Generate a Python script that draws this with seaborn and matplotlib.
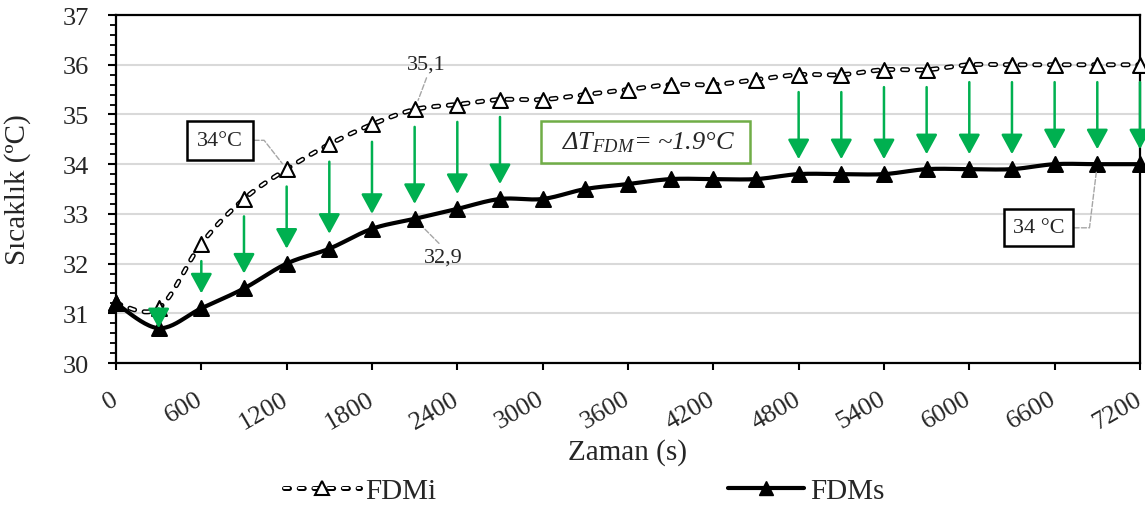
import numpy as np
import pandas as pd
import matplotlib
matplotlib.use('Agg')
import matplotlib.pyplot as plt
import seaborn as sns
from matplotlib.lines import Line2D
from matplotlib.legend_handler import HandlerTuple
from matplotlib.ticker import MultipleLocator

# values
time_s = [0, 300, 600, 900, 1200, 1500, 1800, 2100, 2400, 2700, 3000, 3300, 3600,
          3900, 4200, 4500, 4800, 5100, 5400, 5700, 6000, 6300, 6600, 6900, 7200]
fdmi = [31.2, 31.1, 32.4, 33.3, 33.9, 34.4, 34.8, 35.1, 35.2, 35.3, 35.3, 35.4, 35.5,
        35.6, 35.6, 35.7, 35.8, 35.8, 35.9, 35.9, 36.0, 36.0, 36.0, 36.0, 36.0]
fdms = [31.2, 30.7, 31.1, 31.5, 32.0, 32.3, 32.7, 32.9, 33.1, 33.3, 33.3, 33.5, 33.6,
        33.7, 33.7, 33.7, 33.8, 33.8, 33.8, 33.9, 33.9, 33.9, 34.0, 34.0, 34.0]
arrow_times = [300, 600, 900, 1200, 1500, 1800, 2100, 2400, 2700,
               4800, 5100, 5400, 5700, 6000, 6300, 6600, 6900, 7200]
x_ticks = list(range(0, 7201, 600))
y_ticks = list(range(30, 38))

sns.set_style('white')
plt.rcParams['font.family'] = ['Liberation Serif', 'DejaVu Serif']
plt.rcParams['mathtext.fontset'] = 'custom'
plt.rcParams['mathtext.rm'] = 'Liberation Serif'
plt.rcParams['mathtext.it'] = 'Liberation Serif:italic'
plt.rcParams['lines.scale_dashes'] = False

green = '#00B050'
grey = '#A6A6A6'
dash = (0, (3.6, 7.0))


def smooth(x, y, n=24):
    # excel-like smoothed line (catmull-rom through the points)
    p = np.column_stack([x, y]).astype(float)
    p = np.vstack([p[0], p, p[-1]])
    t = np.linspace(0, 1, n, endpoint=False)[:, None]
    out = []
    for i in range(1, len(p) - 2):
        p0, p1, p2, p3 = p[i - 1], p[i], p[i + 1], p[i + 2]
        out.append(0.5 * (2 * p1 + (-p0 + p2) * t + (2 * p0 - 5 * p1 + 4 * p2 - p3) * t ** 2
                          + (-p0 + 3 * p1 - 3 * p2 + p3) * t ** 3))
    out.append(p[-2][None, :])
    out = np.vstack(out)
    return out[:, 0], out[:, 1]


df = pd.DataFrame({'t': time_s, 'FDMi': fdmi, 'FDMs': fdms})

fig = plt.figure(figsize=(11.45, 5.06), dpi=100)
ax = fig.add_axes([0.1013, 0.2806, 0.8943, 0.6877])

sx, sy = smooth(df['t'], df['FDMi'])
sns.lineplot(x=sx, y=sy, ax=ax, color='black', lw=3.6, linestyle=dash,
             dash_capstyle='round', estimator=None, sort=False, zorder=3)
sns.lineplot(x=sx, y=sy, ax=ax, color='white', lw=1.5, linestyle=dash,
             dash_capstyle='round', estimator=None, sort=False, zorder=3)
sx, sy = smooth(df['t'], df['FDMs'])
sns.lineplot(x=sx, y=sy, ax=ax, color='black', lw=3, estimator=None, sort=False, zorder=3)

sns.scatterplot(data=df, x='t', y='FDMi', ax=ax, marker='^', s=115, color='white',
                edgecolor='black', linewidth=1.5, zorder=4, clip_on=False)
sns.scatterplot(data=df, x='t', y='FDMs', ax=ax, marker='^', s=115, color='black',
                edgecolor='black', linewidth=1.5, zorder=4, clip_on=False)

# green arrows between the two curves
for t in arrow_times:
    i = time_s.index(t)
    hi, lo = fdmi[i], fdms[i]
    if hi - lo > 1:
        hi, lo = hi - 0.35, lo + 0.3
    ax.annotate('', xy=(t, lo), xytext=(t, hi), annotation_clip=False, zorder=5,
                arrowprops=dict(arrowstyle='-|>,head_length=0.55,head_width=0.3',
                                color=green, lw=1.8, shrinkA=0, shrinkB=0,
                                mutation_scale=22))

# callouts
lead = dict(arrowstyle='-', color=grey, ls='--', lw=1)
ax.annotate('35,1', xy=(2100, 35.1), xytext=(2182, 36.02), ha='center', va='center',
            fontsize=16, arrowprops=dict(lead, shrinkA=1, shrinkB=7, relpos=(0.55, 0)))
ax.annotate('32,9', xy=(2100, 32.9), xytext=(2301, 32.13), ha='center', va='center',
            fontsize=16, arrowprops=dict(lead, shrinkA=1, shrinkB=4, relpos=(0.5, 1)))
box = dict(boxstyle='square,pad=0.45', fc='white', ec='black', lw=1.8)
ax.annotate('34°C', xy=(1200, 33.9), xytext=(732, 34.48), ha='center', va='center',
            fontsize=16, bbox=box, zorder=6,
            arrowprops=dict(lead, shrinkA=0, shrinkB=5, relpos=(1, 0.5),
                            connectionstyle='angle,angleA=0,angleB=128,rad=0'))
ax.annotate('34 °C', xy=(6900, 34.0), xytext=(6486, 32.72), ha='center', va='center',
            fontsize=16, bbox=dict(box, boxstyle='square,pad=0.4'), zorder=6,
            arrowprops=dict(lead, shrinkA=0, shrinkB=5, relpos=(1, 0.5),
                            connectionstyle='angle,angleA=0,angleB=-97,rad=0'))
ax.text(3723, 34.45, '  ΔT$_{FDM}$= ~1.9°C  ', ha='center', va='center', fontsize=19,
        style='italic', zorder=6,
        bbox=dict(boxstyle='square,pad=0.33', fc='white', ec='#70AD47', lw=1.8))

# axes
ax.set_xlim(0, 7200)
ax.set_ylim(30, 37)
ax.set_xticks(x_ticks)
ax.set_yticks(y_ticks)
ax.yaxis.set_minor_locator(MultipleLocator(0.2))
ax.yaxis.grid(True, color='#D9D9D9', lw=1.5)
ax.xaxis.grid(False)
ax.set_axisbelow(True)
for s in ax.spines.values():
    s.set_visible(True)
    s.set_color('black')
    s.set_linewidth(1.6)
ax.tick_params(axis='both', which='both', direction='out', color='black', width=1.5)
ax.tick_params(axis='y', which='major', length=6, pad=13.5, labelsize=19, left=True)
ax.tick_params(axis='y', which='minor', length=4, width=1.3, left=True)
ax.tick_params(axis='x', which='major', length=5, pad=19.5, labelsize=19, bottom=True)
for lbl in ax.get_xticklabels():
    lbl.set_rotation(30)
    lbl.set_ha('right')
    lbl.set_va('center')
    lbl.set_rotation_mode('anchor')

ax.set_xlabel('Zaman (s)', fontsize=21)
ax.set_ylabel('Sıcaklık (ºC)', fontsize=21)
ax.xaxis.set_label_coords(0.5, -0.215)
ax.yaxis.set_label_coords(-0.083, 0.5)

# legend below
h1 = (Line2D([], [], color='black', lw=3.6, ls=dash, dash_capstyle='round'),
      Line2D([], [], color='white', lw=1.5, ls=dash, dash_capstyle='round'),
      Line2D([], [], ls='none', marker='^', ms=10.7, mfc='white', mec='black', mew=1.5))
h2 = Line2D([], [], color='black', lw=3, marker='^', ms=10.7, mfc='black', mec='black')
fig.legend([h1, h2], ['FDMi', 'FDMs'], handler_map={tuple: HandlerTuple(ndivide=1, pad=0)},
           loc='center', bbox_to_anchor=(0.51, 0.028), ncol=2, frameon=False, fontsize=21,
           handlelength=2.6, handletextpad=0.2, columnspacing=10, borderpad=0)

fig.savefig('out.png', dpi=100)
